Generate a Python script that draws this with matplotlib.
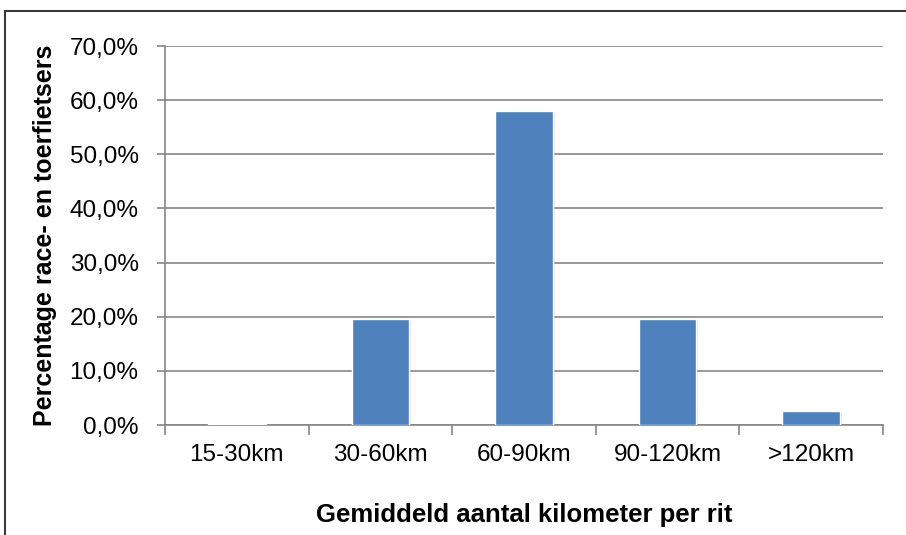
import matplotlib.pyplot as plt
import matplotlib.patheffects as pe
from matplotlib.lines import Line2D
import numpy as np

categories = ['15-30km', '30-60km', '60-90km', '90-120km', '>120km']
percentages = [0.1, 19.6, 58.0, 19.6, 2.6]
yticks = [0, 10, 20, 30, 40, 50, 60, 70]
ytick_labels = ['0,0%', '10,0%', '20,0%', '30,0%', '40,0%', '50,0%', '60,0%', '70,0%']

plt.rcParams['font.family'] = ['Liberation Sans', 'DejaVu Sans']
grid_color = '#868686'

fig = plt.figure(figsize=(9.06, 5.35), dpi=100)
ax = fig.add_axes([0.1821, 0.2056, 0.7925, 0.7084])

x = np.arange(len(categories))
bars = ax.bar(x, percentages, width=0.4, color='#4F81BD', edgecolor='white',
              linewidth=1.0, zorder=3)
for b in bars:
    b.set_path_effects([pe.SimplePatchShadow(offset=(1.5, -1.5), shadow_rgbFace='#b0b0b0', alpha=0.35),
                        pe.Normal()])

ax.set_xlim(-0.5, len(categories) - 0.5)
ax.set_ylim(0, 70)
ax.set_yticks(yticks)
ax.set_yticklabels(ytick_labels, fontsize=17.5)
ax.set_xticks(x)
ax.set_xticklabels(categories, fontsize=17.5)
ax.set_xticks(np.arange(-0.5, len(categories)), minor=True)
ax.tick_params(axis='x', which='major', length=0, pad=14)
ax.tick_params(axis='x', which='minor', length=7, width=1.2, color=grid_color, direction='out')
ax.tick_params(axis='y', length=6, width=1.2, color=grid_color, pad=13)

ax.yaxis.grid(True, color=grid_color, linewidth=1.2, zorder=0)
ax.set_axisbelow(True)
for side in ['top', 'right']:
    ax.spines[side].set_visible(False)
for side in ['left', 'bottom']:
    ax.spines[side].set_color(grid_color)
    ax.spines[side].set_linewidth(1.2)

ax.set_ylabel('Percentage race- en toerfietsers', fontsize=18, fontweight='bold')
ax.yaxis.set_label_coords(-0.150, 0.5)
ax.set_xlabel('Gemiddeld aantal kilometer per rit', fontsize=18.5, fontweight='bold')
ax.xaxis.set_label_coords(0.5, -0.207)

# chart frame (only top and left edges fall inside the canvas)
fig.add_artist(Line2D([5 / 906, 5 / 906], [0, 1 - 11 / 535], color='#3a3a3a', linewidth=1.5))
fig.add_artist(Line2D([5 / 906, 1], [1 - 11 / 535, 1 - 11 / 535], color='#3a3a3a', linewidth=1.5))

fig.savefig('out.png', dpi=100)
